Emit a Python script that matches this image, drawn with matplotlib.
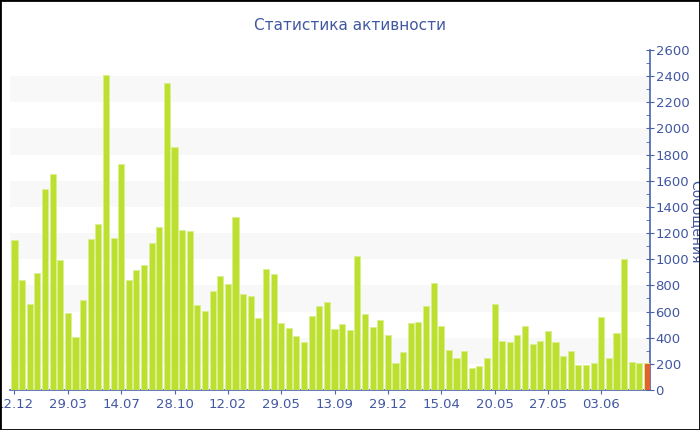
import matplotlib
matplotlib.use("Agg")
import matplotlib.pyplot as plt
from matplotlib.patches import Rectangle
import numpy as np

values = [1145, 841, 655, 892, 1540, 1649, 994, 589, 405, 686,
          1157, 1272, 2411, 1165, 1728, 839, 920, 958, 1127, 1249,
          2350, 1858, 1221, 1216, 647, 607, 754, 869, 808, 1325,
          734, 716, 553, 923, 887, 510, 472, 415, 365, 568,
          645, 673, 469, 505, 456, 1022, 579, 482, 538, 421,
          204, 291, 512, 517, 645, 821, 489, 303, 242, 301,
          171, 181, 245, 655, 375, 367, 421, 487, 349, 375,
          451, 365, 263, 301, 194, 194, 206, 558, 242, 438,
          1004, 214, 209, 209]
tick_labels = ["12.12", "29.03", "14.07", "28.10", "12.02", "29.05",
               "13.09", "29.12", "15.04", "20.05", "27.05", "03.06"]
tick_positions = [0, 7, 14, 21, 28, 35, 42, 49, 56, 63, 70, 77]

title = "Статистика активности"
ylabel = "Сообщения"

text_color = "#4157a2"
axis_color = "#4a63ab"
green = "#bde030"
orange = "#e2622f"

fig = plt.figure(figsize=(7, 4.3), dpi=100)
ax = fig.add_axes([10/700, 1-390/430, 640/700, 340/430])

x = np.arange(len(values))
colors = [green] * (len(values) - 1) + [orange]
ax.bar(x, values, width=0.8, color=colors, edgecolor="#d9ef8f", linewidth=0.6, zorder=3)

ax.set_xlim(-0.59, len(values) - 0.6)
ax.set_ylim(0, 2600)

for lo in range(200, 2600, 400):
    ax.axhspan(lo, lo + 200, color="#f8f8f8", zorder=0, lw=0)

ax.yaxis.tick_right()
ax.yaxis.set_label_position("right")
ax.set_yticks(np.arange(0, 2601, 200))
ax.set_yticks(np.arange(100, 2600, 200), minor=True)
ax.tick_params(axis="y", which="major", direction="inout", length=6, color=axis_color,
               labelcolor=text_color, labelsize=9.5, pad=1)
ax.tick_params(axis="y", which="minor", direction="in", length=3, color=axis_color)

ax.set_xticks(tick_positions)
ax.set_xticklabels(tick_labels)
ax.tick_params(axis="x", direction="out", length=3, color=axis_color,
               labelcolor=text_color, labelsize=9.5, pad=3)

for s in ["top", "left"]:
    ax.spines[s].set_visible(False)
for s in ["right", "bottom"]:
    ax.spines[s].set_color(axis_color)
    ax.spines[s].set_linewidth(1.2)

fig.text(695/700, 1-222/430, ylabel, rotation=270, ha="center", va="center",
         color=text_color, fontsize=10)
fig.text(350/700, 1-25/430, title, ha="center", va="center", color=text_color, fontsize=11)

fig.patches.append(Rectangle((0, 0), 1, 1, transform=fig.transFigure, fill=False,
                             edgecolor="black", linewidth=2, zorder=10))

fig.savefig("out.png", dpi=100)
